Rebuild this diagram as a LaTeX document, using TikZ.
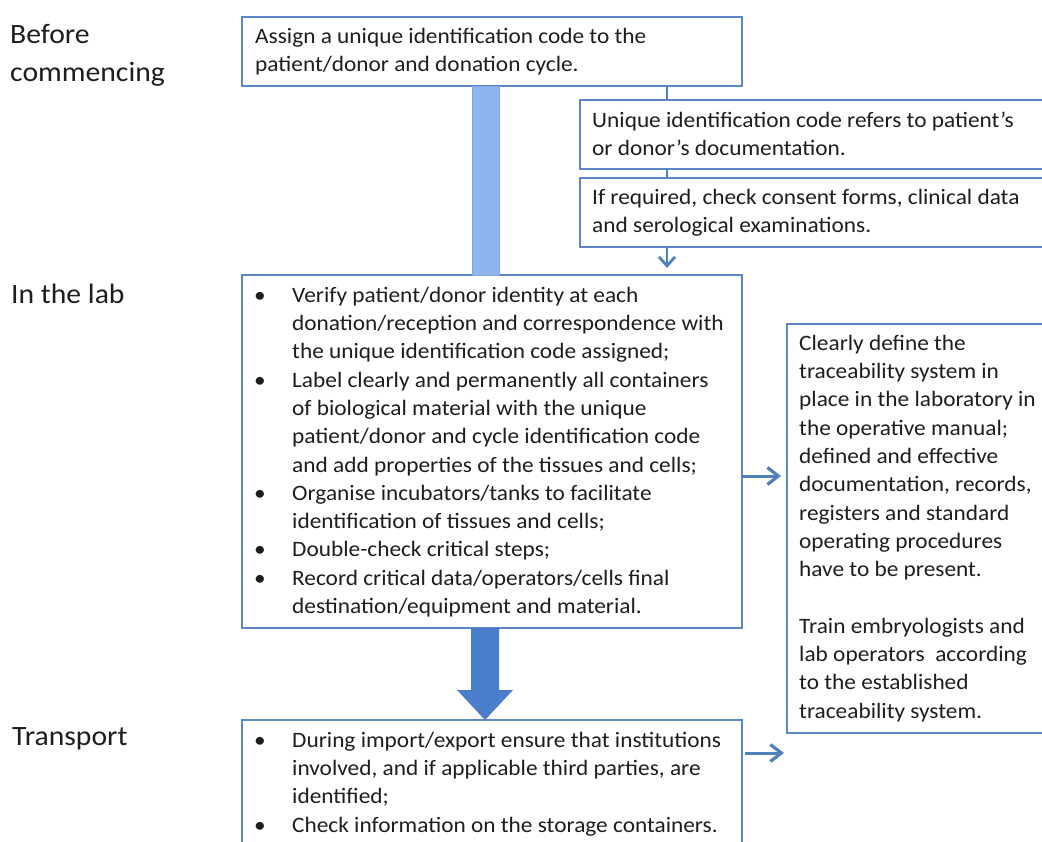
\documentclass[tikz,border=0pt]{standalone}
\usepackage{fontspec}
\setmainfont[FakeStretch=1.06]{Carlito}
\usetikzlibrary{arrows.meta,calc}
\definecolor{boxline}{HTML}{5B87C4}
\definecolor{arrowblue}{HTML}{4F81BD}
\definecolor{barlight}{HTML}{8EB5EE}
\definecolor{baredge}{HTML}{7FA6DE}
\definecolor{bigarrow}{HTML}{4A7ECD}
\definecolor{textgray}{HTML}{1E1E1E}
\tikzset{
  x=1pt, y=-1pt,
  boxnode/.style={draw=boxline, line width=1.1pt, fill=white, anchor=north west, inner sep=0pt, outer sep=0pt},
  bodytext/.style={anchor=north west, inner sep=0pt, align=left, text=textgray, font=\fontsize{22}{28.3}\selectfont},
  sidelabel/.style={anchor=north west, inner sep=0pt, align=left, text=textgray, font=\fontsize{28}{38}\selectfont},
  thinlink/.style={draw=arrowblue, line width=2.2pt},
  sidearrow/.style={draw=arrowblue, line width=3pt, -{Straight Barb[length=11pt,width=17pt,line width=3.2pt]}},
}
\newcommand{\fl}{\rule{0pt}{20pt}}
\newcommand{\bul}{\makebox[39pt][l]{\hspace{1pt}\textbullet}}
\newcommand{\ind}{\hspace*{39pt}}
\begin{document}
\begin{tikzpicture}
\useasboundingbox (0,0) rectangle (1042,842);
\clip (0,0) rectangle (1042,842);
\fill[white] (0,0) rectangle (1042,842);

% side labels (top = baseline - 24)
\node[sidelabel] (lbefore) at (10,19) {\rule{0pt}{24pt}Before\\commencing};
\node[sidelabel] (llab) at (11,279) {\rule{0pt}{24pt}In the lab};
\node[sidelabel] (ltrans) at (12,721) {\rule{0pt}{24pt}Transport};

\coordinate (barL) at (472,0);
\coordinate (barR) at (499,0);
\coordinate (linkx) at (667,0);

% boxes
\node[boxnode, minimum width=500pt, minimum height=69pt] (b1) at (242,17) {};
\node[boxnode, minimum width=466pt, minimum height=69pt] (b2) at (580,100) {};
\node[boxnode, minimum width=466pt, minimum height=69pt] (b3) at (580,178) {};
\node[boxnode, minimum width=500pt, minimum height=353pt] (b4) at (242,275) {};
\node[boxnode, minimum width=500pt, minimum height=135pt] (b5) at (242,720) {};
\node[boxnode, minimum width=262pt, minimum height=409pt] (b6) at (787,324) {};

% light bar between b1 and b4
\filldraw[fill=barlight, draw=baredge, line width=0.8pt] (b1.south -| barL) rectangle (b4.north -| barR);

% thin links
\draw[thinlink] (b1.south -| linkx) -- (b2.north -| linkx);
\draw[thinlink] (b2.south -| linkx) -- (b3.north -| linkx);
\draw[thinlink, -{Straight Barb[length=9pt,width=16pt,line width=2.8pt]}] (b3.south -| linkx) -- ($(b4.north -| linkx)+(0,-7)$);

% big arrow b4 -> b5
\fill[bigarrow] (471,628) -- (499,628) -- (499,690) -- (513,690) -- (485,720) -- (457,690) -- (471,690) -- cycle;

% side arrows
\coordinate (a1) at (0,476);
\coordinate (a2) at (0,753);
\draw[sidearrow] (b4.east |- a1) -- ($(b6.west |- a1)+(-6,0)$);
\draw[sidearrow] ($(b5.east |- a2)+(3,0)$) -- ($(b6.west |- a2)+(-3,0)$);

% texts (top = first baseline - 20)
\node[bodytext] (t1) at (255,23) {\fl Assign a unique identification code to the\\patient/donor and donation cycle.};
\node[bodytext] (t2) at (592,107) {\fl Unique identification code refers to patient’s\\or donor’s documentation.};
\node[bodytext] (t3) at (592,184) {\fl If required, check consent forms, clinical data\\and serological examinations.};
\node[bodytext] (t4) at (253,282) {\fl\bul Verify patient/donor identity at each\\
\ind donation/reception and correspondence with\\
\ind the unique identification code assigned;\\
\bul Label clearly and permanently all containers\\
\ind of biological material with the unique\\
\ind patient/donor and cycle identification code\\
\ind and add properties of the tissues and cells;\\
\bul Organise incubators/tanks to facilitate\\
\ind identification of tissues and cells;\\
\bul Double-check critical steps;\\
\bul Record critical data/operators/cells final\\
\ind destination/equipment and material.};
\node[bodytext] (t5) at (253,727) {\fl\bul During import/export ensure that institutions\\
\ind involved, and if applicable third parties, are\\
\ind identified;\\
\bul Check information on the storage containers.};
\node[bodytext] (t6) at (799,330) {\fl Clearly define the\\
traceability system in\\
place in the laboratory in\\
the operative manual;\\
defined and effective\\
documentation, records,\\
registers and standard\\
operating procedures\\
have to be present.\\[28.3pt]
Train embryologists and\\
lab operators\ \ according\\
to the established\\
traceability system.};
\end{tikzpicture}
\end{document}
